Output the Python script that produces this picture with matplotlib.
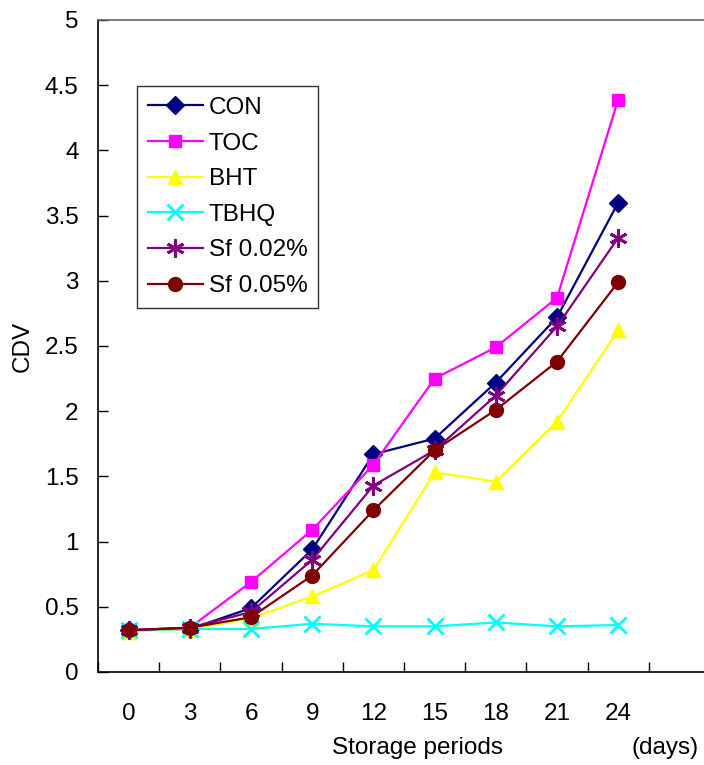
import matplotlib.pyplot as plt
import numpy as np

plt.rcParams['font.family'] = ['Liberation Sans', 'DejaVu Sans']

days = ['0', '3', '6', '9', '12', '15', '18', '21', '24']

con = [0.32, 0.33, 0.49, 0.94, 1.67, 1.79, 2.22, 2.72, 3.60]
toc = [0.32, 0.34, 0.69, 1.09, 1.59, 2.25, 2.49, 2.87, 4.39]
bht = [0.31, 0.33, 0.41, 0.58, 0.78, 1.53, 1.46, 1.92, 2.62]
tbhq = [0.32, 0.33, 0.33, 0.37, 0.35, 0.35, 0.38, 0.35, 0.36]
sf002 = [0.32, 0.34, 0.46, 0.86, 1.43, 1.70, 2.12, 2.65, 3.33]
sf005 = [0.32, 0.34, 0.42, 0.74, 1.24, 1.70, 2.01, 2.38, 2.99]

series = [
    ("CON", con, "#000080", "D", 9),
    ("TOC", toc, "#ff00ff", "s", 9),
    ("BHT", bht, "#ffff00", "^", 10),
    ("TBHQ", tbhq, "#00ffff", "x", 11),
    ("Sf 0.02%", sf002, "#800080", (6, 2, 0), 13),
    ("Sf 0.05%", sf005, "#800000", "o", 10),
]

fs = 17.5

fig = plt.figure(figsize=(7.04, 7.65), dpi=100)
ax = fig.add_axes([98 / 704, 93 / 765, 612 / 704, 652 / 765])

x = np.arange(len(days))
for name, vals, col, mk, ms in series:
    ax.plot(x, vals, color=col, marker=mk, markersize=ms, lw=1.6,
            mew=2 if mk in ("x", (6, 2, 0)) else 1, label=name)

ax.set_xlim(-0.5, 9.5)
ax.set_ylim(0, 5)
ax.set_yticks(np.arange(0, 5.01, 0.5))
ax.set_yticklabels(['0', '0.5', '1', '1.5', '2', '2.5', '3', '3.5', '4', '4.5', '5'])
ax.set_xticks(x)
ax.set_xticklabels(days)
ax.set_xticks(np.arange(-0.5, 9.6, 1), minor=True)
ax.tick_params(axis='x', which='major', length=0, pad=22, labelsize=fs)
ax.tick_params(axis='x', which='minor', direction='in', length=7, width=1)
ax.tick_params(axis='y', direction='in', length=7, width=1, pad=14, labelsize=fs)
for s in ax.spines.values():
    s.set_linewidth(1.2)
ax.spines['right'].set_visible(False)
ax.spines['top'].set_color('#666666')

ax.set_ylabel("CDV", fontsize=fs, labelpad=8)
fig.text(418 / 704, 1 - 748 / 765, "Storage periods", fontsize=fs, ha='center', va='center')
fig.text(665 / 704, 1 - 748 / 765, "(days)", fontsize=fs, ha='center', va='center')

leg = ax.legend(loc='upper left', bbox_to_anchor=(137 / 704, 1 - 86 / 765),
                bbox_transform=fig.transFigure, fontsize=fs, frameon=True,
                fancybox=False, borderpad=0.45, labelspacing=0.56,
                handlelength=2.25, handletextpad=0.25, borderaxespad=0)
leg.get_frame().set_edgecolor('black')
leg.get_frame().set_linewidth(1)

fig.savefig("out.png", dpi=100)
